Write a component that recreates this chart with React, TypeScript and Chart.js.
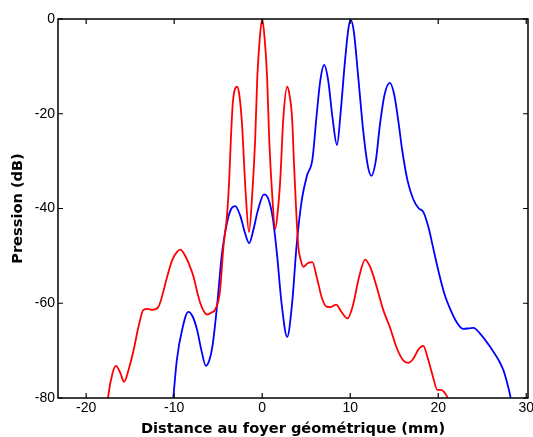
import React, { useEffect, useRef } from "react";
import { Chart, registerables } from "chart.js";

Chart.register(...registerables);

const redX = [-17.7, -17.5, -17.0, -16.6, -16.1, -15.7, -15.1, -14.6, -14.0, -13.5, -13.0, -12.5, -11.8, -11.3, -10.8, -10.2, -9.7, -9.3, -8.8, -8.3, -7.8, -7.4, -7.05, -6.6, -6.25, -5.8, -5.3, -4.8, -4.4, -4.0, -3.75, -3.55, -3.35, -3.1, -2.85, -2.6, -2.3, -1.9, -1.5, -1.1, -0.8, -0.55, -0.25, 0, 0.25, 0.55, 0.8, 1.1, 1.48, 1.8, 2.05, 2.4, 2.84, 3.1, 3.4, 3.6, 3.85, 4.1, 4.4, 4.66, 5.2, 5.7, 6.2, 6.8, 7.3, 7.8, 8.4, 9.0, 9.7, 10.3, 11.0, 11.7, 12.3, 13.0, 13.75, 14.5, 15.3, 16.0, 16.6, 17.2, 17.8, 18.3, 18.8, 19.4, 19.9, 20.3, 20.6, 21.0, 21.4];
const redY = [-84, -79.7, -74.7, -73.2, -74.8, -76.6, -73.5, -69.8, -64.5, -61.4, -61.2, -61.4, -60.8, -58, -54.4, -50.8, -49.2, -48.7, -49.8, -51.8, -54.4, -57.5, -59.9, -61.8, -62.4, -62, -61.2, -57.5, -48, -41.5, -34, -25, -18, -14.8, -14.3, -16, -22, -36, -45, -36, -25.5, -12, -3.5, 0, -3.5, -12, -25.5, -36, -44.3, -40, -34, -21, -14.3, -16, -21, -30, -40, -48, -51, -52.3, -51.5, -51.3, -54.5, -59, -60.7, -60.8, -60.3, -61.8, -63.2, -60.5, -54.5, -50.8, -52.5, -56.5, -61.4, -65, -69.5, -72, -72.6, -71.6, -69.6, -69, -71.5, -75.5, -78.3, -78.3, -78.6, -79.7, -82];

const blueX = [-10.3, -10.1, -9.7, -9.1, -8.4, -7.9, -7.4, -6.9, -6.4, -6.0, -5.6, -5.1, -4.6, -4.0, -3.5, -3.07, -2.5, -1.9, -1.48, -1.0, -0.5, 0.2, 0.7, 1.2, 1.7, 2.2, 2.84, 3.4, 3.9, 4.5, 5.1, 5.7, 6.2, 6.6, 7.05, 7.5, 8.0, 8.5, 8.9, 9.4, 9.8, 10.05, 10.4, 10.9, 11.5, 12.0, 12.4, 12.9, 13.4, 13.9, 14.5, 15.0, 15.5, 15.9, 16.5, 17.2, 17.8, 18.3, 18.9, 19.4, 20.0, 20.7, 21.4, 22.1, 22.8, 23.5, 24.0, 24.8, 25.9, 26.8, 27.4, 27.9, 28.2, 28.4];
const blueY = [-84, -80, -72, -65.6, -61.8, -62.8, -65.6, -70, -73.2, -72, -68.4, -60, -50, -43, -40, -39.5, -41.5, -45.5, -47.3, -44.5, -40.5, -37, -38, -42, -50, -60, -67.1, -60, -48, -38.2, -33, -29.7, -20, -13, -9.7, -13, -21, -26.6, -20, -9, -2, -0.2, -2.5, -12, -24, -31, -33.1, -30, -22, -16, -13.5, -16, -22, -27.6, -34, -38.2, -40, -40.7, -44, -48.1, -53, -58, -61.4, -64, -65.4, -65.3, -65.2, -66.5, -69.2, -71.8, -74.1, -77.3, -79.7, -82];

const xTicks = [-20, -10, 0, 10, 20, 30];
const yTicks = [-80, -60, -40, -20, 0];
const xTitle = "Distance au foyer géométrique (mm)";
const yTitle = "Pression (dB)";

const framePlugin = {
  id: "frame",
  afterDatasetsDraw(chart: any) {
    const { ctx, chartArea } = chart;
    const { left, right, top, bottom } = chartArea;
    const xs = chart.scales.x;
    const ys = chart.scales.y;
    ctx.save();
    ctx.strokeStyle = "#000";
    ctx.lineWidth = 1.5;
    ctx.strokeRect(left, top, right - left, bottom - top);
    ctx.lineWidth = 1.2;
    const tl = 5;
    ctx.beginPath();
    for (const v of xTicks) {
      const px = xs.getPixelForValue(v);
      ctx.moveTo(px, bottom);
      ctx.lineTo(px, bottom - tl);
      ctx.moveTo(px, top);
      ctx.lineTo(px, top + tl);
    }
    for (const v of yTicks) {
      const py = ys.getPixelForValue(v);
      ctx.moveTo(left, py);
      ctx.lineTo(left + tl, py);
      ctx.moveTo(right, py);
      ctx.lineTo(right - tl, py);
    }
    ctx.stroke();
    ctx.restore();
  },
};

export default function App() {
  const ref = useRef<HTMLCanvasElement | null>(null);
  useEffect(() => {
    if (!ref.current) return;
    const chart = new Chart(ref.current, {
      type: "line",
      data: {
        datasets: [
          {
            label: "rouge",
            data: redX.map((x, i) => ({ x, y: redY[i] })),
            borderColor: "#ff0000",
            borderWidth: 1.8,
            pointRadius: 0,
            cubicInterpolationMode: "monotone",
            fill: false,
          },
          {
            label: "bleu",
            data: blueX.map((x, i) => ({ x, y: blueY[i] })),
            borderColor: "#0000ff",
            borderWidth: 1.8,
            pointRadius: 0,
            cubicInterpolationMode: "monotone",
            fill: false,
          },
        ],
      },
      options: {
        animation: false,
        responsive: false,
        maintainAspectRatio: false,
        layout: { padding: { top: 19, right: 5, left: 0, bottom: 0 } },
        plugins: { legend: { display: false }, tooltip: { enabled: false } },
        scales: {
          x: {
            type: "linear",
            min: -23.2,
            max: 30.2,
            grid: { display: false, drawTicks: false },
            border: { display: false },
            afterBuildTicks: (s: any) => {
              s.ticks = xTicks.map((v) => ({ value: v }));
            },
            afterFit: (s: any) => {
              s.height = 39;
              s.paddingLeft = 0;
              s.paddingRight = 0;
            },
            ticks: {
              color: "#000",
              padding: 2,
              maxRotation: 0,
              autoSkip: false,
              font: { family: "'Liberation Sans', Arial, sans-serif", size: 14 },
            },
            title: {
              display: true,
              text: xTitle,
              color: "#000",
              padding: { top: 0, bottom: 0.7 },
              font: { family: "'DejaVu Sans', sans-serif", size: 14.6, weight: "bold", lineHeight: 1 },
            },
          },
          y: {
            type: "linear",
            min: -80,
            max: 0,
            grid: { display: false, drawTicks: false },
            border: { display: false },
            afterBuildTicks: (s: any) => {
              s.ticks = yTicks.map((v) => ({ value: v }));
            },
            afterFit: (s: any) => {
              s.width = 58;
              s.paddingTop = 0;
              s.paddingBottom = 0;
            },
            ticks: {
              color: "#000",
              padding: 3,
              autoSkip: false,
              font: { family: "'Liberation Sans', Arial, sans-serif", size: 14 },
            },
            title: {
              display: true,
              text: yTitle,
              color: "#000",
              padding: { top: 10.7, bottom: 0 },
              font: { family: "'DejaVu Sans', sans-serif", size: 14.6, weight: "bold", lineHeight: 1 },
            },
          },
        },
      },
      plugins: [framePlugin],
    });
    return () => chart.destroy();
  }, []);
  return (
    <div style={{ position: "absolute", left: 0, top: 0, width: 533, height: 437, background: "#fff" }}>
      <canvas ref={ref} width={533} height={437} style={{ width: 533, height: 437 }} />
    </div>
  );
}
